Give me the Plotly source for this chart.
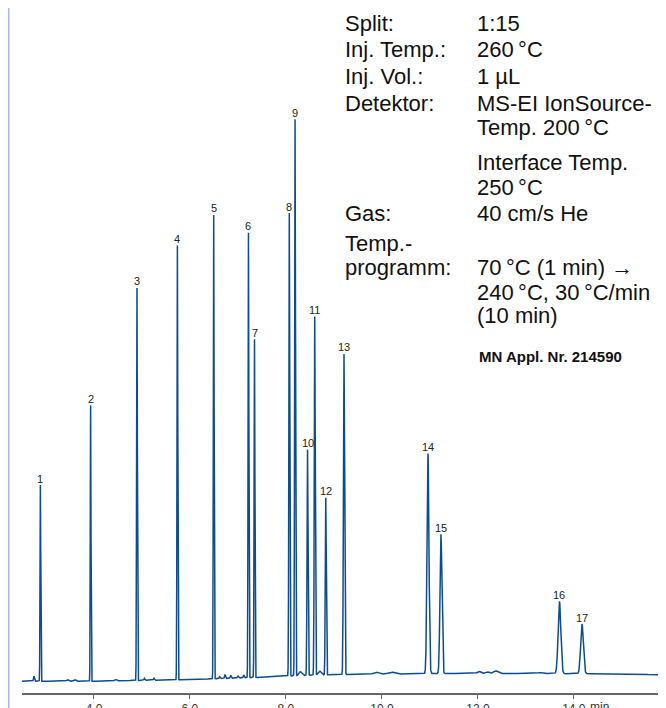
import numpy as np
import plotly.graph_objects as go

# ---------------- data ----------------
peak_ids = [str(i) for i in range(1, 18)]
peak_times = [2.883, 3.93, 4.896, 5.738, 6.495, 7.219, 7.345, 8.07, 8.19,
              8.45, 8.60, 8.83, 9.21, 10.96, 11.23, 13.70, 14.17]
peak_apex = [211, 292, 411, 454, 485, 467, 359, 487, 582,
             247, 382, 198, 344, 243, 161, 93, 70]
peak_sigma = [0.007, 0.007, 0.008, 0.008, 0.008, 0.008, 0.008, 0.009, 0.009,
              0.010, 0.010, 0.010, 0.012, 0.020, 0.020, 0.028, 0.028]

minor_times = [2.75, 3.45, 3.60, 4.45, 5.05, 5.25, 6.62, 6.73, 6.85, 7.00,
               7.12, 8.30, 8.70, 9.88, 10.20, 12.02, 12.20, 12.37, 13.30]
minor_heights = [5, 1.5, 1.5, 1.5, 2, 2, 2, 4, 3, 2,
                 3, 4, 4, 2, 2, 2, 1.5, 2.5, 1]
minor_sigma = [0.01, 0.02, 0.02, 0.02, 0.01, 0.01, 0.01, 0.01, 0.01, 0.015,
               0.01, 0.03, 0.03, 0.05, 0.06, 0.03, 0.03, 0.04, 0.04]

baseline_t = [2.5, 4.0, 6.0, 7.5, 8.5, 9.5, 12.0, 14.5, 15.92]
baseline_v = [12, 12, 13.5, 16, 18, 19, 20, 19.5, 18.5]

tick_vals = [4, 6, 8, 10, 12, 14]
tick_text = ["4.0", "6.0", "8.0", "10.0", "12.0", "14.0"]

TS = "\u2009"  # thin space
info_rows = [
    ("Split:", ["1:15"]),
    ("Inj. Temp.:", ["260" + TS + "°C"]),
    ("Inj. Vol.:", ["1 µL"]),
    ("Detektor:", ["MS-EI IonSource-", "Temp. 200" + TS + "°C",
                   "Interface Temp.", "250" + TS + "°C"]),
    ("Gas:", ["40 cm/s He"]),
    ("Temp.-", []),
    ("programm:", ["70" + TS + "°C (1 min) →",
                   "240" + TS + "°C, 30" + TS + "°C/min", "(10 min)"]),
]
appl_text = "MN Appl. Nr. 214590"

# ---------------- signal ----------------
t = np.arange(2.5, 15.921, 0.001)
base = np.interp(t, baseline_t, baseline_v)
sig = base.copy()
for tm, ap, s in zip(peak_times, peak_apex, peak_sigma):
    amp = ap - np.interp(tm, baseline_t, baseline_v)
    sig += amp * np.exp(-0.5 * ((t - tm) / s) ** 2)
for tm, h, s in zip(minor_times, minor_heights, minor_sigma):
    sig += h * np.exp(-0.5 * ((t - tm) / s) ** 2)

# page offset compensation (horizontal only)
OFFX, OFFY = 8, 0
W, H = 666 - OFFX, 708 - OFFY
ML = 22 - OFFX
PH = 695 - OFFY
MB = H - PH
PW = W - ML

fig = go.Figure()
fig.add_trace(go.Scatter(x=t, y=sig, mode="lines",
                         line=dict(color="#0d4c8f", width=1.5),
                         hoverinfo="skip", showlegend=False))

FONT = "Liberation Sans, Arial, Helvetica, sans-serif"

for pid, tm, ap in zip(peak_ids, peak_times, peak_apex):
    fig.add_annotation(x=tm, y=ap, text=pid, showarrow=False,
                       xanchor="center", yanchor="bottom", yshift=-1.5,
                       font=dict(family=FONT, size=11, color="#222222"))


def px2paper(px, py):
    """screen pixel -> paper coordinates"""
    return ((px - OFFX) - ML) / PW, (PH - (py - OFFY)) / PH


# text block layout (screen pixel baselines)
FS = 22
label_x, value_x = 343, 475
baselines = [[30], [57], [84], [111, 136, 171, 197], [223], [253], [278, 303, 326]]
for (lab, vals), bls in zip(info_rows, baselines):
    xl, yl = px2paper(label_x, bls[0] - 14.5)
    fig.add_annotation(xref="paper", yref="paper", x=xl, y=yl, text=lab,
                       showarrow=False, xanchor="left", yanchor="middle",
                       font=dict(family=FONT, size=FS, color="#111111"))
    for v, b in zip(vals, bls):
        xv, yv = px2paper(value_x, b - 14.5)
        fig.add_annotation(xref="paper", yref="paper", x=xv, y=yv, text=v,
                           showarrow=False, xanchor="left", yanchor="middle",
                           font=dict(family=FONT, size=FS, color="#111111"))

xa, ya = px2paper(477, 363 - 9)
fig.add_annotation(xref="paper", yref="paper", x=xa, y=ya,
                   text="<b>" + appl_text + "</b>", showarrow=False,
                   xanchor="left", yanchor="middle",
                   font=dict(family=FONT, size=15, color="#111111"))

# "min" unit after last tick label
fig.add_annotation(x=14, xref="x", yref="paper", y=0, text="min",
                   showarrow=False, xanchor="left", yanchor="top",
                   xshift=14, yshift=-5,
                   font=dict(family=FONT, size=12, color="#333333"))

# page border line on the left
x_b = (0.5 - ML) / PW
fig.add_shape(type="line", xref="paper", yref="paper",
              x0=x_b, x1=x_b, y0=-MB / PH - 0.01, y1=1.01,
              line=dict(color="#a9b9d9", width=2))

fig.update_layout(
    width=W, height=H,
    margin=dict(l=ML, r=0, t=0, b=MB),
    paper_bgcolor="white", plot_bgcolor="white",
    xaxis=dict(range=[2.5, 15.92], showgrid=False, zeroline=False,
               showline=True, linecolor="#666666", linewidth=1.5,
               ticks="outside", ticklen=4, tickcolor="#666666", tickwidth=1,
               tickvals=tick_vals, ticktext=tick_text,
               tickfont=dict(family=FONT, size=12, color="#333333")),
    yaxis=dict(range=[0, PH], visible=False, fixedrange=True),
)

fig.write_html("out.html")
